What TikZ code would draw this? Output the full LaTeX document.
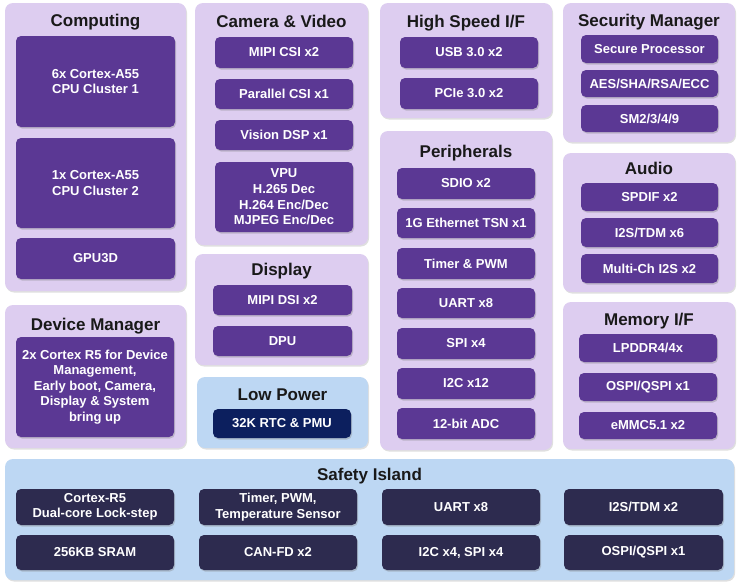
\documentclass[tikz,border=0pt]{standalone}
\usepackage{fontspec}
\setmainfont{Liberation Sans}
\usetikzlibrary{shadows}
\definecolor{panelbg}{RGB}{221,205,240}
\definecolor{itembg}{RGB}{91,56,148}
\definecolor{bluebg}{RGB}{189,215,243}
\definecolor{navy}{RGB}{12,31,94}
\definecolor{darkitem}{RGB}{45,43,79}
% block from corner (x1,y1) to corner (x2,y2), in pixels
\newcommand{\blk}[7][unit]{%
  \node[#1, minimum width={(#5-#3)*1pt}, minimum height={(#6-#4)*1pt}] (#2) at ({(#3+#5)/2},{(#4+#6)/2}) {#7};}
\begin{document}
\begin{tikzpicture}[x=1pt, y=-1pt,
    panel/.style={rectangle, rounded corners=8pt, fill=panelbg, inner sep=0pt,
      drop shadow={shadow xshift=1pt, shadow yshift=-1.5pt, opacity=0.25}},
    bluepanel/.style={panel, fill=bluebg},
    unit/.style={rectangle, rounded corners=5pt, fill=itembg, inner sep=0pt, align=center,
      text=white, font=\fontsize{13}{15.6}\selectfont\bfseries,
      drop shadow={shadow xshift=1pt, shadow yshift=-1.5pt, opacity=0.35}},
    rtc/.style={unit, fill=navy},
    safe/.style={unit, fill=darkitem},
    head/.style={text=black!90, font=\fontsize{17}{20}\selectfont\bfseries, inner sep=0pt,
      text height=12.2pt, text depth=0pt}]
  \useasboundingbox (0,0) rectangle (740,587);
  % panels
  \blk[panel]{comp}{5}{3}{186}{291}{}
  \blk[panel]{cam}{195}{3}{368}{245}{}
  \blk[panel]{hsif}{380}{3}{552}{118}{}
  \blk[panel]{peri}{380}{131}{552}{450}{}
  \blk[panel]{secm}{563}{3}{735}{142}{}
  \blk[panel]{audio}{563}{153}{735}{292}{}
  \blk[panel]{mem}{563}{302}{735}{449}{}
  \blk[panel]{disp}{195}{254}{368}{365}{}
  \blk[bluepanel]{lowp}{197}{377}{368}{448}{}
  \blk[panel]{devm}{5}{305}{186}{448}{}
  \blk[bluepanel]{safety}{5}{459}{734}{580}{}
  % headers
  \node[head] (comp-t) at (95.5,20) {Computing};
  \node[head] (cam-t) at (281.5,21) {Camera \& Video};
  \node[head] (hsif-t) at (466,21) {High Speed I/F};
  \node[head] (peri-t) at (466,151) {Peripherals};
  \node[head] (secm-t) at (649,20) {Security Manager};
  \node[head] (audio-t) at (649,168) {Audio};
  \node[head] (mem-t) at (649,319) {Memory I/F};
  \node[head] (disp-t) at (281.5,269) {Display};
  \node[head] (lowp-t) at (282.5,394) {Low Power};
  \node[head] (devm-t) at (95.5,324) {Device Manager};
  \node[head] (safety-t) at (369.5,474) {Safety Island};
  % Computing
  \blk{cpu1}{16}{36}{175}{127}{6x Cortex-A55\\CPU Cluster 1}
  \blk{cpu2}{16}{138}{175}{228}{1x Cortex-A55\\CPU Cluster 2}
  \blk{gpu}{16}{238}{175}{279}{GPU3D}
  % Camera & Video
  \blk{csi}{215}{37}{353}{68}{MIPI CSI x2}
  \blk{pcsi}{215}{79}{353}{109}{Parallel CSI x1}
  \blk{dsp}{215}{120}{353}{150}{Vision DSP x1}
  \blk{vpu}{215}{162}{353}{232}{VPU\\H.265 Dec\\H.264 Enc/Dec\\MJPEG Enc/Dec}
  % High Speed I/F
  \blk{usb}{400}{37}{538}{68}{USB 3.0 x2}
  \blk{pcie}{400}{78}{538}{109}{PCIe 3.0 x2}
  % Peripherals
  \blk{sdio}{397}{168}{535}{199}{SDIO x2}
  \blk{eth}{397}{208}{535}{238}{1G Ethernet TSN x1}
  \blk{tmr}{397}{248}{535}{279}{Timer \& PWM}
  \blk{uart}{397}{288}{535}{318}{UART x8}
  \blk{spi}{397}{328}{535}{359}{SPI x4}
  \blk{iic}{397}{368}{535}{399}{I2C x12}
  \blk{adc}{397}{408}{535}{439}{12-bit ADC}
  % Security Manager
  \blk{sproc}{581}{35}{718}{63}{Secure Processor}
  \blk{aes}{581}{70}{718}{97}{AES/SHA/RSA/ECC}
  \blk{sm}{581}{105}{718}{132}{SM2/3/4/9}
  % Audio
  \blk{spdif}{581}{183}{718}{211}{SPDIF x2}
  \blk{tdm}{581}{218}{718}{247}{I2S/TDM x6}
  \blk{mch}{581}{254}{718}{283}{Multi-Ch I2S x2}
  % Memory I/F
  \blk{ddr}{579}{334}{717}{362}{LPDDR4/4x}
  \blk{ospi}{579}{373}{717}{401}{OSPI/QSPI x1}
  \blk{emmc}{579}{412}{717}{439}{eMMC5.1 x2}
  % Display
  \blk{dsi}{213}{285}{352}{315}{MIPI DSI x2}
  \blk{dpu}{213}{326}{352}{356}{DPU}
  % Low Power
  \blk[rtc]{pmu}{213}{409}{351}{438}{32K RTC \& PMU}
  % Device Manager
  \blk{r5}{16}{337}{174}{437}{2x Cortex R5 for Device\\Management,\\Early boot, Camera,\\Display \& System\\bring up}
  % Safety Island
  \blk[safe]{lock}{16}{489}{174}{525}{Cortex-R5\\Dual-core Lock-step}
  \blk[safe]{stmr}{199}{489}{357}{525}{Timer, PWM,\\Temperature Sensor}
  \blk[safe]{suart}{382}{489}{540}{525}{UART x8}
  \blk[safe]{stdm}{564}{489}{723}{525}{I2S/TDM x2}
  \blk[safe]{sram}{16}{535}{174}{570}{256KB SRAM}
  \blk[safe]{can}{199}{535}{357}{570}{CAN-FD x2}
  \blk[safe]{sbus}{382}{535}{540}{570}{I2C x4, SPI x4}
  \blk[safe]{sospi}{564}{535}{723}{570}{OSPI/QSPI x1}
\end{tikzpicture}
\end{document}
